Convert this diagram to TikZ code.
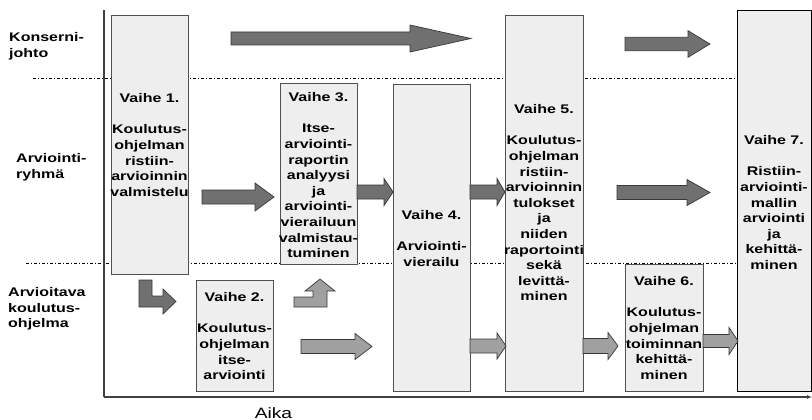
\documentclass[tikz,border=0pt]{standalone}
\usepackage{fontspec}
\setmainfont{Liberation Sans}
\newfontfamily\widesans[FakeStretch=1.28]{Liberation Sans}
\usetikzlibrary{arrows.meta}
\definecolor{boxfill}{HTML}{EEEEEE}
\definecolor{boxline}{HTML}{505050}
\definecolor{darkfill}{HTML}{707070}
\definecolor{lightfill}{HTML}{A0A0A0}
\definecolor{arrline}{HTML}{383838}
\definecolor{axisline}{HTML}{404040}
\newcommand\blockarrow[7]{\draw[#1] (#2,#5-#6) -- (#3,#5-#6) -- (#3,#5-#7) -- (#4,#5) -- (#3,#5+#7) -- (#3,#5+#6) -- (#2,#5+#6) -- cycle;}
\begin{document}
\begin{tikzpicture}[x=1pt,y=-1pt,
  stage/.style={draw=boxline, fill=boxfill, line width=0.8pt, anchor=north west, inner sep=0pt, outer sep=0pt},
  txt/.style={font=\widesans\bfseries\fontsize{12.5}{15.6}\selectfont, align=center, inner sep=0pt, anchor=north},
  lane/.style={font=\widesans\bfseries\fontsize{12.5}{15.6}\selectfont, align=left, inner sep=0pt, anchor=north west},
  darkarr/.style={fill=darkfill, draw=arrline, line width=0.7pt, line join=miter},
  lightarr/.style={fill=lightfill, draw=arrline, line width=0.7pt, line join=miter},
  sep/.style={draw=black, line width=0.5pt, dash pattern=on 3pt off 2pt on 1pt off 2pt},
  axis/.style={draw=axisline, line width=1.2pt}]
\useasboundingbox (0,0) rectangle (812,420);
\fill[white] (0,0) rectangle (812,420);
% lane separators
\coordinate (s1a) at (33,78); \coordinate (s1b) at (737,78);
\coordinate (s2a) at (26,263); \coordinate (s2b) at (737,263);
\draw[sep] (s1a) -- (s1b);
\draw[sep] (s2a) -- (s2b);
% axes
\coordinate (top) at (104,10);
\coordinate (origin) at (104,397);
\coordinate (xend) at (812,397);
\draw[axis] (top) -- (origin);
\draw[axis, -{Latex[length=5pt,width=4pt]}] (origin) -- (xend);
% stage boxes
\node[stage, minimum width=77pt, minimum height=259pt] (v1) at (111,15) {};
\node[stage, minimum width=77pt, minimum height=111pt] (v2) at (196,280) {};
\node[stage, minimum width=77pt, minimum height=181pt] (v3) at (280,83) {};
\node[stage, minimum width=77pt, minimum height=307pt] (v4) at (393,84) {};
\node[stage, minimum width=78pt, minimum height=376pt] (v5) at (505,15) {};
\node[stage, minimum width=78pt, minimum height=127pt] (v6) at (625,264) {};
\node[stage, draw=black, minimum width=74pt, minimum height=381pt] (v7) at (737,10) {};
% texts
\node[txt] (t1) at (149.5,93.4) {Vaihe 1.\\[15.6pt]Koulutus-\\ohjelman\\ristiin-\\arvioinnin\\valmistelu};
\node[txt] (t2) at (234.5,292.4) {Vaihe 2.\\[15.6pt]Koulutus-\\ohjelman\\itse-\\arviointi};
\node[txt] (t3) at (318.5,92.4) {Vaihe 3.\\[15.6pt]Itse-\\arviointi-\\raportin\\analyysi\\ja\\arviointi-\\vierailuun\\valmistau-\\tuminen};
\node[txt] (t4) at (431.5,210.4) {Vaihe 4.\\[15.6pt]Arviointi-\\vierailu};
\node[txt] (t5) at (544,104.4) {Vaihe 5.\\[15.6pt]Koulutus-\\ohjelman\\ristiin-\\arvioinnin\\tulokset\\ja\\niiden\\raportointi\\sekä\\levittä-\\minen};
\node[txt] (t6) at (664,276.4) {Vaihe 6.\\[15.6pt]Koulutus-\\ohjelman\\toiminnan\\kehittä-\\minen};
\node[txt] (t7) at (774,135.4) {Vaihe 7.\\[15.6pt]Ristiin-\\arviointi-\\mallin\\arviointi\\ja\\kehittä-\\minen};
% lane labels
\node[lane] (l1) at (9,32.4) {Konserni-\\johto};
\node[lane] (l2) at (16,153.4) {Arviointi-\\ryhmä};
\node[lane] (l3) at (8,287.4) {Arvioitava\\koulutus-\\ohjelma};
\node[font=\widesans\fontsize{15}{18}\selectfont, inner sep=0pt] (aika) at (273.5,413) {Aika};
% block arrows: style, x0, xhead, xtip, ycenter, shaft half, head half
\blockarrow{darkarr}{231}{410}{471}{38.5}{6.5}{13.5}
\blockarrow{darkarr}{625}{688}{710}{44}{6.7}{13.3}
\blockarrow{darkarr}{202}{255}{274}{197}{7}{14}
\blockarrow{darkarr}{357}{384}{393}{192}{7}{13.5}
\blockarrow{darkarr}{470}{497}{505}{192}{7}{13.5}
\blockarrow{darkarr}{617}{687}{710}{192.5}{7}{13}
\blockarrow{lightarr}{301}{355}{372}{346.5}{7}{13}
\blockarrow{lightarr}{470}{497}{506}{346}{7}{13}
\blockarrow{lightarr}{583}{608}{618}{346}{7.5}{13.5}
\blockarrow{lightarr}{703}{729}{738}{341}{6.5}{13.5}
% elbow arrows
\draw[darkarr] (139,280) -- (152,280) -- (152,296) -- (163,296) -- (163,289) -- (176,301.5) -- (163,314) -- (163,307) -- (139,307) -- cycle;
\draw[lightarr] (294,297) -- (313,297) -- (313,291) -- (305,291) -- (320,279) -- (335,291) -- (327,291) -- (327,307) -- (294,307) -- cycle;
\end{tikzpicture}
\end{document}
